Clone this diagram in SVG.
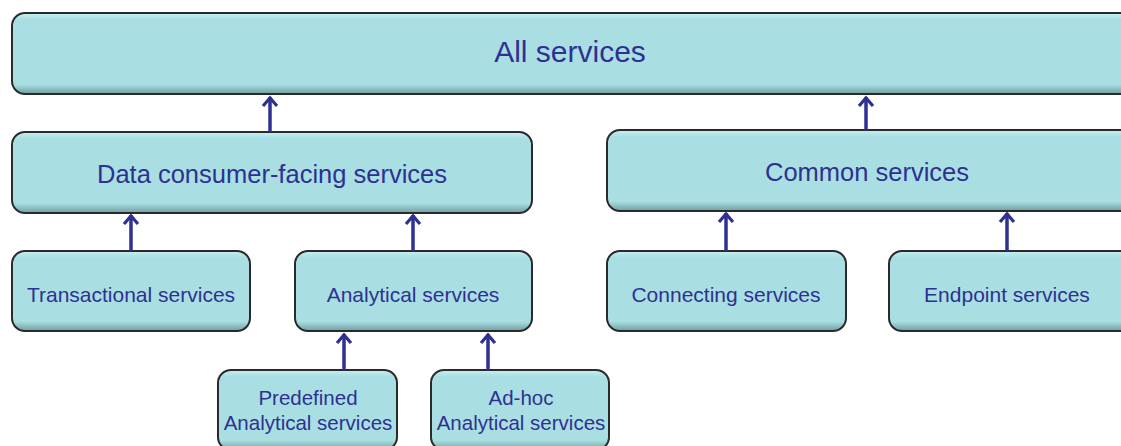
<svg xmlns="http://www.w3.org/2000/svg" width="1121" height="446" viewBox="0 0 1121 446">
<style>
.box{fill:url(#g);stroke:#2a2a2a;stroke-width:2}
.t{font-family:"Liberation Sans",Arial,sans-serif;fill:#2E3192;text-anchor:middle}
.c{stroke:#2E3192;stroke-width:3.5;fill:none}
</style>
<defs>
<linearGradient id="g" x1="0" y1="0" x2="0" y2="1">
<stop offset="0" stop-color="#c9f0f2"/>
<stop offset="0.08" stop-color="#a9dfe2"/>
<stop offset="0.88" stop-color="#a9dfe2"/>
<stop offset="1" stop-color="#6f9ea1"/>
</linearGradient>
<marker id="a" viewBox="0 0 18 18" refX="14" refY="9" markerWidth="18" markerHeight="18" markerUnits="userSpaceOnUse" orient="auto">
<path d="M5 2 L13 9 L5 16" fill="none" stroke="#2E3192" stroke-width="3.2"/>
</marker>
</defs>
<g id="n-all"><rect class="box" x="12" y="13" width="1122" height="81" rx="13"/><text class="t" x="570" y="62" font-size="30">All services</text></g>
<g id="n-dcf"><rect class="box" x="12" y="132" width="520" height="81" rx="13"/><text class="t" x="272" y="183" font-size="25.5">Data consumer-facing services</text></g>
<g id="n-common"><rect class="box" x="607" y="130" width="527" height="81" rx="13"/><text class="t" x="867" y="181" font-size="25.5">Common services</text></g>
<g id="n-trans"><rect class="box" x="12" y="251" width="238" height="80" rx="13"/><text class="t" x="131" y="302" font-size="21">Transactional services</text></g>
<g id="n-anal"><rect class="box" x="295" y="251" width="237" height="80" rx="13"/><text class="t" x="413" y="302" font-size="21">Analytical services</text></g>
<g id="n-conn"><rect class="box" x="607" y="251" width="239" height="80" rx="13"/><text class="t" x="726" y="302" font-size="21">Connecting services</text></g>
<g id="n-end"><rect class="box" x="889" y="251" width="245" height="80" rx="13"/><text class="t" x="1007" y="302" font-size="21">Endpoint services</text></g>
<g id="n-pre"><rect class="box" x="218" y="370" width="179" height="80" rx="13"/><text class="t" x="308" y="405" font-size="20.5">Predefined</text><text class="t" x="308" y="430" font-size="20.5">Analytical services</text></g>
<g id="n-adhoc"><rect class="box" x="431" y="370" width="178" height="80" rx="13"/><text class="t" x="521" y="405" font-size="20.5">Ad-hoc</text><text class="t" x="521" y="430" font-size="20.5">Analytical services</text></g>
<g id="connectors">
<line class="c" x1="270" y1="132" x2="270" y2="97" marker-end="url(#a)"/>
<line class="c" x1="866" y1="130" x2="866" y2="97" marker-end="url(#a)"/>
<line class="c" x1="131" y1="251" x2="131" y2="215" marker-end="url(#a)"/>
<line class="c" x1="413" y1="251" x2="413" y2="215" marker-end="url(#a)"/>
<line class="c" x1="726" y1="251" x2="726" y2="213" marker-end="url(#a)"/>
<line class="c" x1="1007" y1="251" x2="1007" y2="213" marker-end="url(#a)"/>
<line class="c" x1="344" y1="370" x2="344" y2="334" marker-end="url(#a)"/>
<line class="c" x1="488" y1="370" x2="488" y2="334" marker-end="url(#a)"/>
</g>
</svg>
